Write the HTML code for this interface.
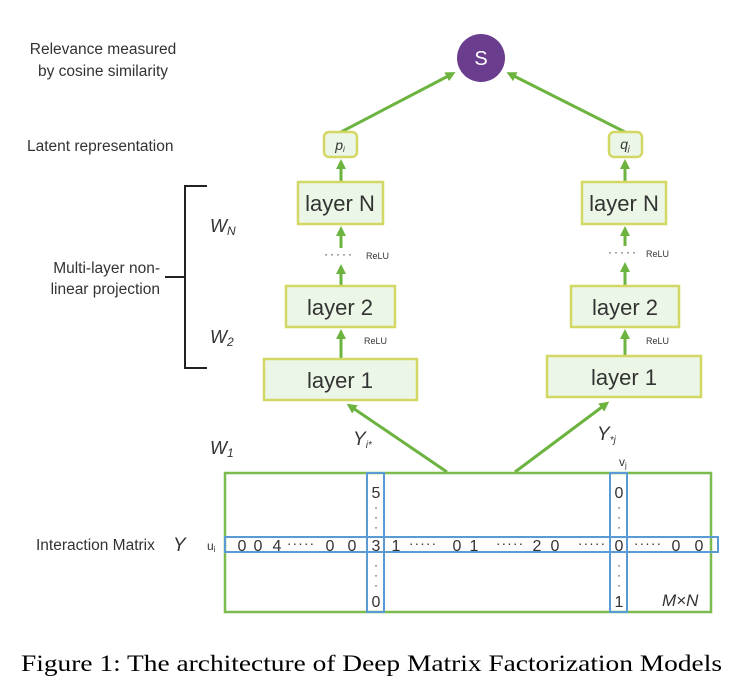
<!DOCTYPE html>
<html><head><style>
html,body{margin:0;padding:0;background:#fff;}
svg{display:block;}
text{font-family:"Liberation Sans",sans-serif;fill:#333;}
</style></head><body>
<svg width="744" height="688" viewBox="0 0 744 688" xmlns="http://www.w3.org/2000/svg">
<defs>
<marker id="ah" markerWidth="10" markerHeight="10" refX="6" refY="5" orient="auto" markerUnits="userSpaceOnUse">
<path d="M0,0 L10,5 L0,10 z" fill="#6cb33f"/>
</marker>
</defs>
<text x="103" y="54" font-size="15.5" text-anchor="middle">Relevance measured</text>
<text x="103" y="76" font-size="15.5" text-anchor="middle">by cosine similarity</text>
<text x="27" y="151" font-size="15.5">Latent representation</text>
<text x="160" y="273" font-size="15.5" text-anchor="end">Multi-layer non-</text>
<text x="160" y="294" font-size="15.5" text-anchor="end">linear projection</text>
<path d="M207,186 H185 V368 H207 M165,277 H185" stroke="#222" stroke-width="2" fill="none"/>
<text x="210" y="232" font-size="18" font-style="italic">W<tspan font-size="12" dy="3">N</tspan></text>
<text x="210" y="343" font-size="18" font-style="italic">W<tspan font-size="12" dy="3">2</tspan></text>
<text x="210" y="454" font-size="18" font-style="italic">W<tspan font-size="12" dy="3">1</tspan></text>
<text x="36" y="550" font-size="15.5">Interaction Matrix</text>
<text x="173" y="551" font-size="19" font-style="italic">Y</text>
<text x="207" y="550" font-size="12">u<tspan font-size="8" dy="2">i</tspan></text>

<circle cx="481" cy="58" r="24" fill="#6a3d8f"/>
<text x="481" y="65" font-size="20" text-anchor="middle" style="fill:#fff">S</text>
<g stroke="#6cb33f" stroke-width="3" fill="none">
<line x1="341" y1="132" x2="452" y2="74" marker-end="url(#ah)"/>
<line x1="625" y1="132" x2="510" y2="74" marker-end="url(#ah)"/>
<line x1="341" y1="181" x2="341" y2="163" marker-end="url(#ah)"/>
<line x1="625" y1="181" x2="625" y2="163" marker-end="url(#ah)"/>
<line x1="341" y1="248" x2="341" y2="230" marker-end="url(#ah)"/>
<line x1="625" y1="246" x2="625" y2="230" marker-end="url(#ah)"/>
<line x1="341" y1="285" x2="341" y2="268" marker-end="url(#ah)"/>
<line x1="625" y1="285" x2="625" y2="266" marker-end="url(#ah)"/>
<line x1="341" y1="358" x2="341" y2="333" marker-end="url(#ah)"/>
<line x1="625" y1="355" x2="625" y2="333" marker-end="url(#ah)"/>
<line x1="447" y1="472" x2="350" y2="406" marker-end="url(#ah)"/>
<line x1="515" y1="472" x2="606" y2="404" marker-end="url(#ah)"/>
</g>
<g fill="#ebf6e6" stroke="#d3d865" stroke-width="2.5">
<rect x="324" y="132" width="33" height="25" rx="5"/>
<rect x="609" y="132" width="33" height="25" rx="5"/>
<rect x="298" y="182" width="85" height="42"/>
<rect x="582" y="182" width="84" height="42"/>
<rect x="286" y="286" width="109" height="41"/>
<rect x="571" y="286" width="108" height="41"/>
<rect x="264" y="359" width="153" height="41"/>
<rect x="547" y="356" width="154" height="41"/>
</g>
<text x="340" y="150" font-size="14" font-style="italic" text-anchor="middle">p<tspan font-size="8" dy="2">i</tspan></text>
<text x="625" y="149" font-size="14" font-style="italic" text-anchor="middle">q<tspan font-size="8" dy="2">j</tspan></text>
<g font-size="22" text-anchor="middle">
<text x="340" y="211">layer N</text>
<text x="624" y="211">layer N</text>
<text x="340" y="315">layer 2</text>
<text x="625" y="315">layer 2</text>
<text x="340" y="388">layer 1</text>
<text x="624" y="385">layer 1</text>
</g>
<g font-size="9">
<text x="366" y="259">ReLU</text>
<text x="646" y="257">ReLU</text>
<text x="364" y="344">ReLU</text>
<text x="646" y="344">ReLU</text>
</g>
<g font-size="12" letter-spacing="2">
<text x="324" y="258">·····</text>
<text x="608" y="256">·····</text>
</g>
<text x="353" y="445" font-size="19" font-style="italic">Y<tspan font-size="10" dy="3">i*</tspan></text>
<text x="597" y="440" font-size="19" font-style="italic">Y<tspan font-size="10" dy="3">*j</tspan></text>
<text x="619" y="466" font-size="12">v<tspan font-size="8" dy="2">j</tspan></text>

<rect x="225" y="473" width="486" height="139" fill="none" stroke="#7dbb4f" stroke-width="2.5"/>
<g fill="none" stroke="#5b9bd5" stroke-width="2">
<rect x="225" y="537" width="493" height="15"/>
<rect x="367" y="473" width="17" height="139"/>
<rect x="610" y="473" width="17" height="139"/>
</g>
<g font-size="16" text-anchor="middle">
<text x="376" y="498">5</text>
<text x="376" y="607">0</text>
<text x="619" y="498">0</text>
<text x="619" y="607">1</text>
<text x="242" y="551">0</text><text x="258" y="551">0</text><text x="277" y="551">4</text>
<text x="330" y="551">0</text><text x="352" y="551">0</text><text x="376" y="551">3</text>
<text x="396" y="551">1</text><text x="457" y="551">0</text><text x="474" y="551">1</text>
<text x="537" y="551">2</text><text x="555" y="551">0</text><text x="619" y="551">0</text>
<text x="676" y="551">0</text><text x="699" y="551">0</text>
</g>
<g font-size="14" text-anchor="middle" letter-spacing="1">
<text x="301" y="548">·····</text>
<text x="423" y="548">·····</text>
<text x="510" y="548">·····</text>
<text x="592" y="548">·····</text>
<text x="648" y="548">·····</text>
</g>
<text x="662" y="606" font-size="17" font-style="italic">M×N</text>
<g font-size="12" text-anchor="middle">
<text x="376" y="511">·</text><text x="376" y="521">·</text><text x="376" y="531">·</text>
<text x="376" y="569">·</text><text x="376" y="579">·</text><text x="376" y="589">·</text>
<text x="619" y="511">·</text><text x="619" y="521">·</text><text x="619" y="531">·</text>
<text x="619" y="569">·</text><text x="619" y="579">·</text><text x="619" y="589">·</text>
</g>
<text x="21" y="671" font-size="23" textLength="701" lengthAdjust="spacingAndGlyphs" style="font-family:'Liberation Serif',serif;fill:#000">Figure 1: The architecture of Deep Matrix Factorization Models</text>
</svg>
</body></html>
